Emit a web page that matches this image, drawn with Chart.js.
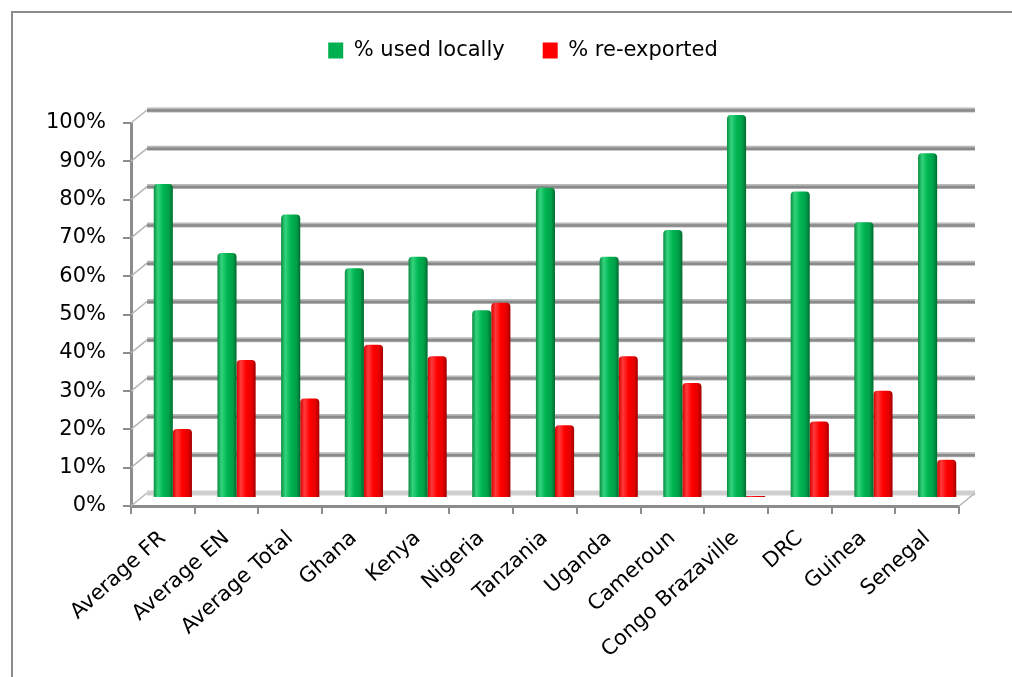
<!DOCTYPE html>
<html>
<head>
    <meta charset="utf-8" />
    <title>Used locally vs re-exported</title>
    <style>
        html, body { margin: 0; background: #fff; overflow: hidden; }
        #wrap { position: absolute; left: 0; top: 0; width: 1012px; height: 677px; }
    </style>
</head>
<body>
    <div id="wrap"><canvas id="barChart"></canvas></div>

    <script src="https://cdn.jsdelivr.net/npm/chart.js@4/dist/chart.umd.min.js"></script>
    <script>
        const categories = ['Average FR', 'Average EN', 'Average Total', 'Ghana', 'Kenya', 'Nigeria', 'Tanzania',
            'Uganda', 'Cameroun', 'Congo Brazaville', 'DRC', 'Guinea', 'Senegal'];
        const usedLocally = [82, 64, 74, 60, 63, 49, 81, 63, 70, 100, 80, 72, 90];
        const reExported = [18, 36, 26, 40, 37, 51, 19, 37, 30, 0, 20, 28, 10];
        const seriesNames = ['% used locally', '% re-exported'];
        const seriesColors = ['#00b050', '#ff0000'];

        const CAT_PCT = 0.6;
        const WALL_DX = 16, WALL_DY = -13;  // depth of the back wall
        const BAR_DX = 10, BAR_DY = -8;     // bars sit half way into the box

        // cylinder-like shading across each bar
        const shades = [
            ['#0b8c41', '#33d47c', '#00b552', '#00a049', '#006a2e'],
            ['#d40000', '#ff3a3a', '#ff0000', '#e60000', '#a10000']
        ];

        function barFill(context) {
            const chart = context.chart;
            const area = chart.chartArea;
            if (!area) return seriesColors[context.datasetIndex];
            const cat = (area.right - area.left) / categories.length;
            const w = cat * CAT_PCT / 2;
            const cx = chart.scales.x.getPixelForValue(context.dataIndex);
            const left = cx - cat * CAT_PCT / 2 + context.datasetIndex * w;
            const g = chart.ctx.createLinearGradient(left, 0, left + w, 0);
            const s = shades[context.datasetIndex];
            g.addColorStop(0, s[0]);
            g.addColorStop(0.22, s[1]);
            g.addColorStop(0.5, s[2]);
            g.addColorStop(0.8, s[3]);
            g.addColorStop(1, s[4]);
            return g;
        }

        // outer frame, open on the right and bottom
        const framePlugin = {
            id: 'frame',
            beforeDraw(chart) {
                const ctx = chart.ctx;
                ctx.save();
                ctx.strokeStyle = '#8c8c8c';
                ctx.lineWidth = 2;
                ctx.beginPath();
                ctx.moveTo(12, chart.height);
                ctx.lineTo(12, 12);
                ctx.lineTo(chart.width, 12);
                ctx.stroke();
                ctx.restore();
            }
        };

        const depthPlugin = {
            id: 'depth',
            beforeDatasetsDraw(chart) {
                const { ctx, chartArea: a, scales: { y } } = chart;
                ctx.save();
                y.ticks.forEach((t) => {
                    const fy = y.getPixelForValue(t.value);
                    // side wall
                    ctx.strokeStyle = '#b5b5b5';
                    ctx.lineWidth = 1.5;
                    ctx.beginPath();
                    ctx.moveTo(a.left, fy);
                    ctx.lineTo(a.left + WALL_DX, fy + WALL_DY);
                    ctx.stroke();
                    // back wall
                    const by = fy + WALL_DY;
                    ctx.strokeStyle = t.value === 0 ? '#cfcfcf' : '#b8b8b8';
                    ctx.lineWidth = 5;
                    ctx.beginPath();
                    ctx.moveTo(a.left + WALL_DX, by);
                    ctx.lineTo(a.right + WALL_DX, by);
                    ctx.stroke();
                    if (t.value !== 0) {
                        ctx.strokeStyle = '#8a8a8a';
                        ctx.lineWidth = 2.5;
                        ctx.beginPath();
                        ctx.moveTo(a.left + WALL_DX, by + 0.5);
                        ctx.lineTo(a.right + WALL_DX, by + 0.5);
                        ctx.stroke();
                    }
                });
                // floor edge on the right
                ctx.strokeStyle = '#b5b5b5';
                ctx.lineWidth = 1.5;
                ctx.beginPath();
                ctx.moveTo(a.right, a.bottom);
                ctx.lineTo(a.right + WALL_DX, a.bottom + WALL_DY);
                ctx.stroke();
                ctx.restore();

                ctx.save();
                ctx.translate(BAR_DX, BAR_DY);
            },
            afterDatasetsDraw(chart) {
                chart.ctx.restore();
            }
        };

        Chart.defaults.font.family = 'DejaVu Sans';
        Chart.defaults.font.size = 21;
        Chart.defaults.color = '#000';

        const ctx = document.getElementById('barChart');
        const myChart = new Chart(ctx, {
            type: 'bar',
            data: {
                labels: categories,
                datasets: [
                    { label: seriesNames[0], data: usedLocally, backgroundColor: barFill },
                    { label: seriesNames[1], data: reExported, backgroundColor: barFill, minBarLength: 2 }
                ]
            },
            options: {
                responsive: true,
                maintainAspectRatio: false,
                animation: false,
                datasets: {
                    bar: {
                        categoryPercentage: CAT_PCT,
                        barPercentage: 1,
                        borderSkipped: 'bottom',
                        borderRadius: { topLeft: 4, topRight: 4 }
                    }
                },
                layout: { padding: { left: 46, right: 12, top: 2, bottom: 0 } },
                plugins: {
                    legend: {
                        position: 'top',
                        weight: 1000,
                        labels: {
                            boxWidth: 15,
                            boxHeight: 16,
                            padding: 38,
                            generateLabels: (chart) => chart.data.datasets.map((ds, i) => ({
                                text: ds.label,
                                fillStyle: seriesColors[i],
                                strokeStyle: seriesColors[i],
                                lineWidth: 0,
                                datasetIndex: i
                            }))
                        }
                    },
                    // spacer between the legend and the plot
                    title: {
                        display: true,
                        text: '',
                        weight: 500,
                        font: { size: 10, lineHeight: 1 },
                        padding: { top: 0, bottom: 42 }
                    },
                    tooltip: { enabled: false }
                },
                scales: {
                    x: {
                        grid: { offset: true, drawOnChartArea: false, color: '#8c8c8c', lineWidth: 2, tickLength: 8 },
                        border: { color: '#8c8c8c', width: 3 },
                        ticks: { autoSkip: false, minRotation: 42, maxRotation: 42, padding: 12 },
                        afterFit: (scale) => { scale.height = 171; }
                    },
                    y: {
                        min: 0,
                        max: 100,
                        ticks: { stepSize: 10, padding: 17, callback: (v) => v + '%' },
                        grid: { drawOnChartArea: false, color: '#8c8c8c', lineWidth: 2, tickLength: 8 },
                        border: { color: '#8c8c8c', width: 3 },
                        afterFit: (scale) => { scale.width = 85; }
                    },
                    // empty strip on the right for the depth of the box
                    yRight: {
                        type: 'linear',
                        position: 'right',
                        grid: { display: false },
                        border: { display: false },
                        ticks: { display: false },
                        afterFit: (scale) => { scale.width = 41; }
                    }
                }
            },
            plugins: [framePlugin, depthPlugin]
        });
    </script>
</body>
</html>
